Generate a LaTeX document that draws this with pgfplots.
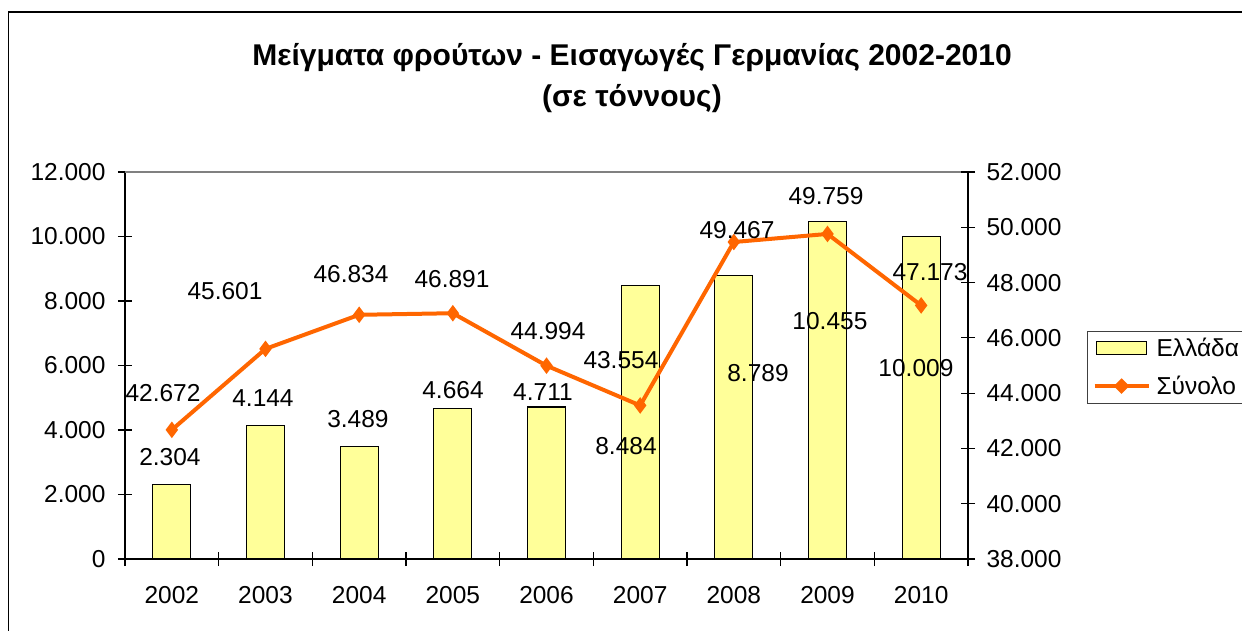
\documentclass[border=0pt]{standalone}
\usepackage{pgfplots}
\pgfplotsset{compat=1.18}
\usepackage{pgfplotstable}
\usepackage{fontspec}
\setmainfont{Liberation Sans}

\definecolor{barfill}{RGB}{255,255,153}
\definecolor{lineor}{RGB}{255,102,0}

% year index, Ελλάδα, Σύνολο
\pgfplotstableread{
idx ellada synolo
0 2304 42672
1 4144 45601
2 3489 46834
3 4664 46891
4 4711 44994
5 8484 43554
6 8789 49467
7 10455 49759
8 10009 47173
}\data

% data label positions (right axis units), as placed in the original
\pgfplotstableread{
lx ly lab
-0.094 44005 42.672
0.568 47695 45.601
1.913 48310 46.834
2.991 48129 46.891
4.016 46248 44.994
4.795 45199 43.554
6.034 49902 49.467
6.984 51132 49.759
8.094 48383 47.173
-0.020 41690 2.304
0.973 43824 4.144
1.987 43065 3.489
3.002 44114 4.664
3.962 44041 4.711
4.849 42088 8.484
6.258 44729 8.789
7.026 46610 10.455
7.944 44910 10.009
}\labels

\begin{document}
\begin{tikzpicture}[x=1pt,y=1pt]
\useasboundingbox (0,0) rectangle (1242,630);
\clip (0,0) rectangle (1242,630);
\draw[line width=1.3pt] (8.5,-20) rectangle (1262,618);

\node[font=\fontsize{30}{36}\selectfont\bfseries, anchor=base] at (632,564)
  {Μείγματα φρούτων - Εισαγωγές Γερμανίας 2002-2010};
\node[font=\fontsize{30}{36}\selectfont\bfseries, anchor=base] at (632,523)
  {(σε τόννους)};

\pgfplotsset{
  every axis/.append style={
    at={(125pt,71pt)}, anchor=south west,
    scale only axis, width=843pt, height=387pt,
    xmin=-0.5, xmax=8.5,
    tick align=center,
    major tick length=14pt, minor tick length=14pt,
    tick style={black, line width=1.1pt},
    axis line style={line width=1.3pt},
    tick label style={font=\fontsize{24.5}{29}\selectfont},
    scaled y ticks=false,
    /pgf/number format/.cd, 1000 sep={.}, assume math mode=true,
  },
}

\begin{axis}[
  ymin=0, ymax=12000, ytick={0,2000,...,12000},
  xtick={0,...,8},
  xticklabels={2002,2003,2004,2005,2006,2007,2008,2009,2010},
  major x tick style={draw=none},
  minor xtick={-0.5,0.5,...,8.5},
  xtick pos=left, ytick pos=left,
  yticklabel style={xshift=-9pt},
  xticklabel style={yshift=-17pt},
  clip=false,
  legend style={
    at={(1.1412,0.590)}, anchor=north west,
    draw=black!75, line width=1pt,
    font=\fontsize{24.5}{29}\selectfont,
    inner xsep=5pt, inner ysep=5pt,
    row sep=14pt,
    /tikz/every odd column/.append style={column sep=4pt},
  },
  legend cell align=left,
]
\addplot[ybar, bar width=38pt, fill=barfill, draw=black, line width=1.3pt,
  legend image code/.code={\draw[fill=barfill, draw=black, line width=1.3pt] (2pt,-6.5pt) rectangle (52pt,6.5pt);}]
  table[x=idx, y=ellada] {\data};
\addlegendentry{Ελλάδα}
\addlegendimage{lineor, line width=4pt,
  legend image code/.code={\draw[lineor, line width=4pt] (0pt,0pt) -- (54pt,0pt); \fill[lineor] (27pt,0pt) +(-5pt,0pt) -- +(0pt,5pt) -- +(5pt,0pt) -- +(0pt,-5pt) -- cycle;}}
\addlegendentry{Σύνολο}
\draw[black!50, line width=1.3pt] (rel axis cs:0,1) -- (rel axis cs:1,1);
\end{axis}

\begin{axis}[
  ymin=38000, ymax=52000, ytick={38000,40000,...,52000},
  axis x line=none, axis y line*=right,
  axis line style={-},
  yticklabel style={xshift=8pt},
  clip=false,
]
\addplot[lineor, line width=4pt, mark=diamond*, mark size=5pt]
  table[x=idx, y=synolo] {\data};
\addplot[draw=none, mark=none, nodes near coords, point meta=explicit symbolic,
  nodes near coords style={anchor=center, inner sep=0pt, font=\fontsize{24.5}{29}\selectfont, black}]
  table[x=lx, y=ly, meta=lab] {\labels};
\end{axis}
\end{tikzpicture}
\end{document}
